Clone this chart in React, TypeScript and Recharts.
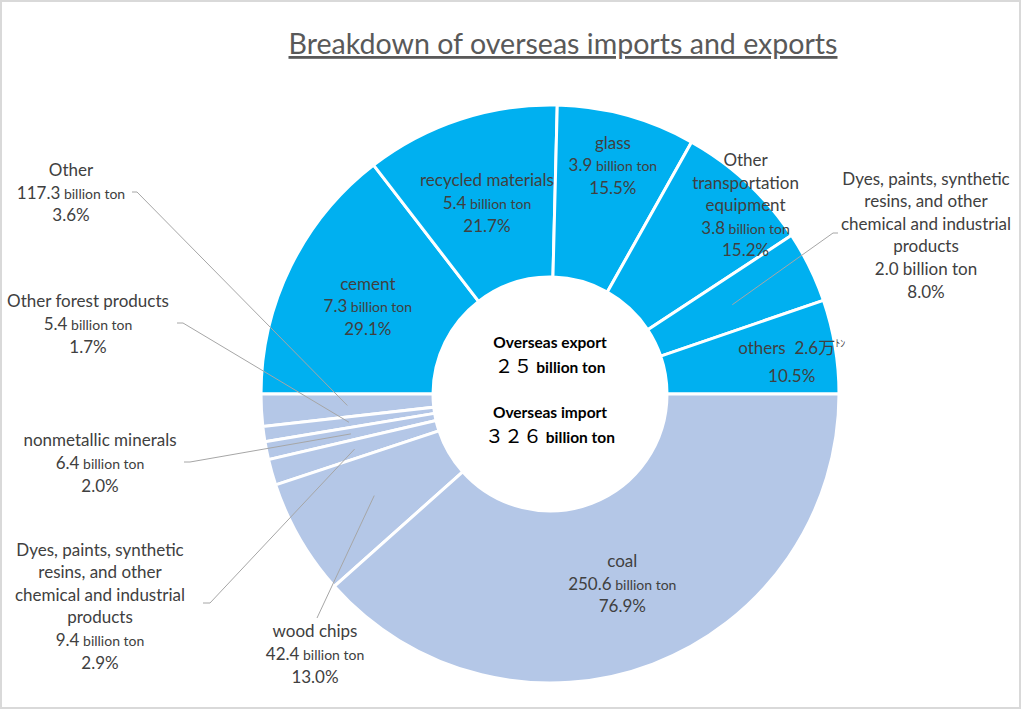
import { Pie, PieChart } from 'recharts';

// overseas export (top half)
const exportCategories = [
  'cement',
  'recycled materials',
  'glass',
  'Other transportation equipment',
  'Dyes, paints, synthetic resins, and other chemical and industrial products',
  'others',
];
const exportShares = [29.1, 21.7, 15.5, 15.2, 8.0, 10.5];
const exportAmounts = [7.3, 5.4, 3.9, 3.8, 2.0, 2.6];
const exportUnits = ['billion ton', 'billion ton', 'billion ton', 'billion ton', 'billion ton', '万ﾄﾝ'];

// overseas import (bottom half)
const importCategories = [
  'Other',
  'Other forest products',
  'nonmetallic minerals',
  'Dyes, paints, synthetic resins, and other chemical and industrial products',
  'wood chips',
  'coal',
];
const importShares = [3.6, 1.7, 2.0, 2.9, 13.0, 76.9];
const importAmounts = [117.3, 5.4, 6.4, 9.4, 42.4, 250.6];
const importUnits = ['billion ton', 'billion ton', 'billion ton', 'billion ton', 'billion ton', 'billion ton'];

const exportTotal = '２５';
const importTotal = '３２６';

const wrapLines: Record<string, string[]> = {
  'Other transportation equipment': ['Other', 'transportation', 'equipment'],
  'Dyes, paints, synthetic resins, and other chemical and industrial products': [
    'Dyes, paints, synthetic',
    'resins, and other',
    'chemical and industrial',
    'products',
  ],
};

const FONT = "Lato, 'Noto Sans CJK JP', sans-serif";
const TEXT = '#404040';
const LEADER = '#a6a6a6';
const RADIAN = Math.PI / 180;
const GAP = 22.6;

type LabelCfg = {
  r?: number;
  dx?: number;
  dy?: number;
  x?: number;
  y?: number;
  elbow?: [number, number];
  endX?: number;
  unitSize?: number;
  inline?: boolean;
  gap?: number;
};

const exportLayout: LabelCfg[] = [
  { r: 203, dy: 2 },
  { r: 203, dy: 2 },
  { r: 237 },
  { r: 272, dx: 10, dy: 10 },
  { x: 926, y: 235, elbow: [833, 233], endX: 838, unitSize: 17 },
  { r: 245, dy: 8, inline: true, gap: 28 },
];

const importLayout: LabelCfg[] = [
  { x: 71, y: 192.5, elbow: [137, 192], endX: 132 },
  { x: 88, y: 324, elbow: [183, 323], endX: 177 },
  { x: 100, y: 463, elbow: [190, 462], endX: 184 },
  { x: 100, y: 606, elbow: [210, 603], endX: 203 },
  { x: 315, y: 654, elbow: [317, 618], endX: 317 },
  { r: 203 },
];

type Seg = { t: string; size?: number; raise?: number };

function buildLines(name: string, amount: number, share: number, unit: string, cfg: LabelCfg): Seg[][] {
  const amountLine: Seg[] =
    unit === '万ﾄﾝ'
      ? [{ t: `${amount.toFixed(1)}万` }, { t: 'ﾄﾝ', size: 10, raise: 7 }]
      : [{ t: amount.toFixed(1) }, { t: `\u00a0${unit}`, size: cfg.unitSize ?? 14 }];
  const pct = [{ t: `${share.toFixed(1)}%` }];
  if (cfg.inline) return [[{ t: `${name}\u00a0\u00a0` }, ...amountLine], pct];
  const names = wrapLines[name] ?? [name];
  return [...names.map((n) => [{ t: n }]), amountLine, pct];
}

function makeLabel(names: string[], amounts: number[], shares: number[], units: string[], layout: LabelCfg[]) {
  return (p: any) => {
    const i = p.index as number;
    const cfg = layout[i];
    const ang = -p.midAngle * RADIAN;
    const midR = (p.innerRadius + p.outerRadius) / 2;
    let bx: number;
    let by: number;
    let leader: string | null = null;
    if (cfg.x !== undefined && cfg.y !== undefined) {
      bx = cfg.x;
      by = cfg.y;
      const sx = p.cx + midR * Math.cos(ang);
      const sy = p.cy + midR * Math.sin(ang);
      const [ex, ey] = cfg.elbow!;
      leader = `${sx},${sy} ${ex},${ey} ${cfg.endX},${ey}`;
    } else {
      const r = cfg.r ?? midR;
      bx = p.cx + r * Math.cos(ang) + (cfg.dx ?? 0);
      by = p.cy + r * Math.sin(ang) + (cfg.dy ?? 0);
    }
    const lines = buildLines(names[i], amounts[i], shares[i], units[i], cfg);
    const gap = cfg.gap ?? GAP;
    return (
      <g key={`lbl-${i}`}>
        {leader && <polyline points={leader} fill="none" stroke={LEADER} strokeWidth={1} />}
        {lines.map((line, li) => (
          <text
            key={li}
            x={bx}
            y={by + (li - (lines.length - 1) / 2) * gap + 6}
            textAnchor="middle"
            fontFamily={FONT}
            fontSize={17}
            fill={TEXT}
          >
            {line.map((s, si) => (
              <tspan key={si} fontSize={s.size ?? 17} dy={s.raise ? -s.raise : undefined}>
                {s.t}
              </tspan>
            ))}
          </text>
        ))}
      </g>
    );
  };
}

const exportData = exportCategories.map((name, i) => ({ name, value: exportShares[i] }));
const importData = importCategories.map((name, i) => ({ name, value: importShares[i] }));

export default function App() {
  return (
    <div style={{ position: 'fixed', left: 0, top: 0, width: 1024, height: 710, background: '#fff' }}>
      <PieChart width={1024} height={710} margin={{ top: 0, right: 0, bottom: 0, left: 0 }}>
        <Pie
          data={exportData}
          dataKey="value"
          nameKey="name"
          cx={550}
          cy={394}
          innerRadius={117}
          outerRadius={289}
          startAngle={180}
          endAngle={0}
          fill="#00b0f0"
          stroke="#ffffff"
          strokeWidth={3}
          labelLine={false}
          label={makeLabel(exportCategories, exportAmounts, exportShares, exportUnits, exportLayout)}
          isAnimationActive={false}
        />
        <Pie
          data={importData}
          dataKey="value"
          nameKey="name"
          cx={550}
          cy={394}
          innerRadius={117}
          outerRadius={289}
          startAngle={180}
          endAngle={360}
          fill="#b4c7e7"
          stroke="#ffffff"
          strokeWidth={3}
          labelLine={false}
          label={makeLabel(importCategories, importAmounts, importShares, importUnits, importLayout)}
          isAnimationActive={false}
        />
      </PieChart>
      <svg
        width={1024}
        height={710}
        style={{ position: 'absolute', left: 0, top: 0, pointerEvents: 'none' }}
      >
        <rect x={1} y={1} width={1019} height={707} fill="none" stroke="#d9d9d9" strokeWidth={2} />
        <text
          x={563}
          y={54}
          textAnchor="middle"
          fontFamily={FONT}
          fontSize={28}
          fill="#595959"
          textDecoration="underline"
          textLength={549}
          lengthAdjust="spacingAndGlyphs"
        >
          Breakdown of overseas imports and exports
        </text>
        <g fontFamily={FONT} fill="#000" textAnchor="middle">
          <text x={550} y={348} fontSize={15.5} fontWeight={700}>
            Overseas export
          </text>
          <text x={550} y={373}>
            <tspan fontSize={19}>{exportTotal}</tspan>
            <tspan fontSize={15.5} fontWeight={700}>{'\u00a0billion ton'}</tspan>
          </text>
          <text x={550} y={418} fontSize={15.5} fontWeight={700}>
            Overseas import
          </text>
          <text x={550} y={443}>
            <tspan fontSize={19}>{importTotal}</tspan>
            <tspan fontSize={15.5} fontWeight={700}>{'\u00a0billion ton'}</tspan>
          </text>
        </g>
      </svg>
    </div>
  );
}
